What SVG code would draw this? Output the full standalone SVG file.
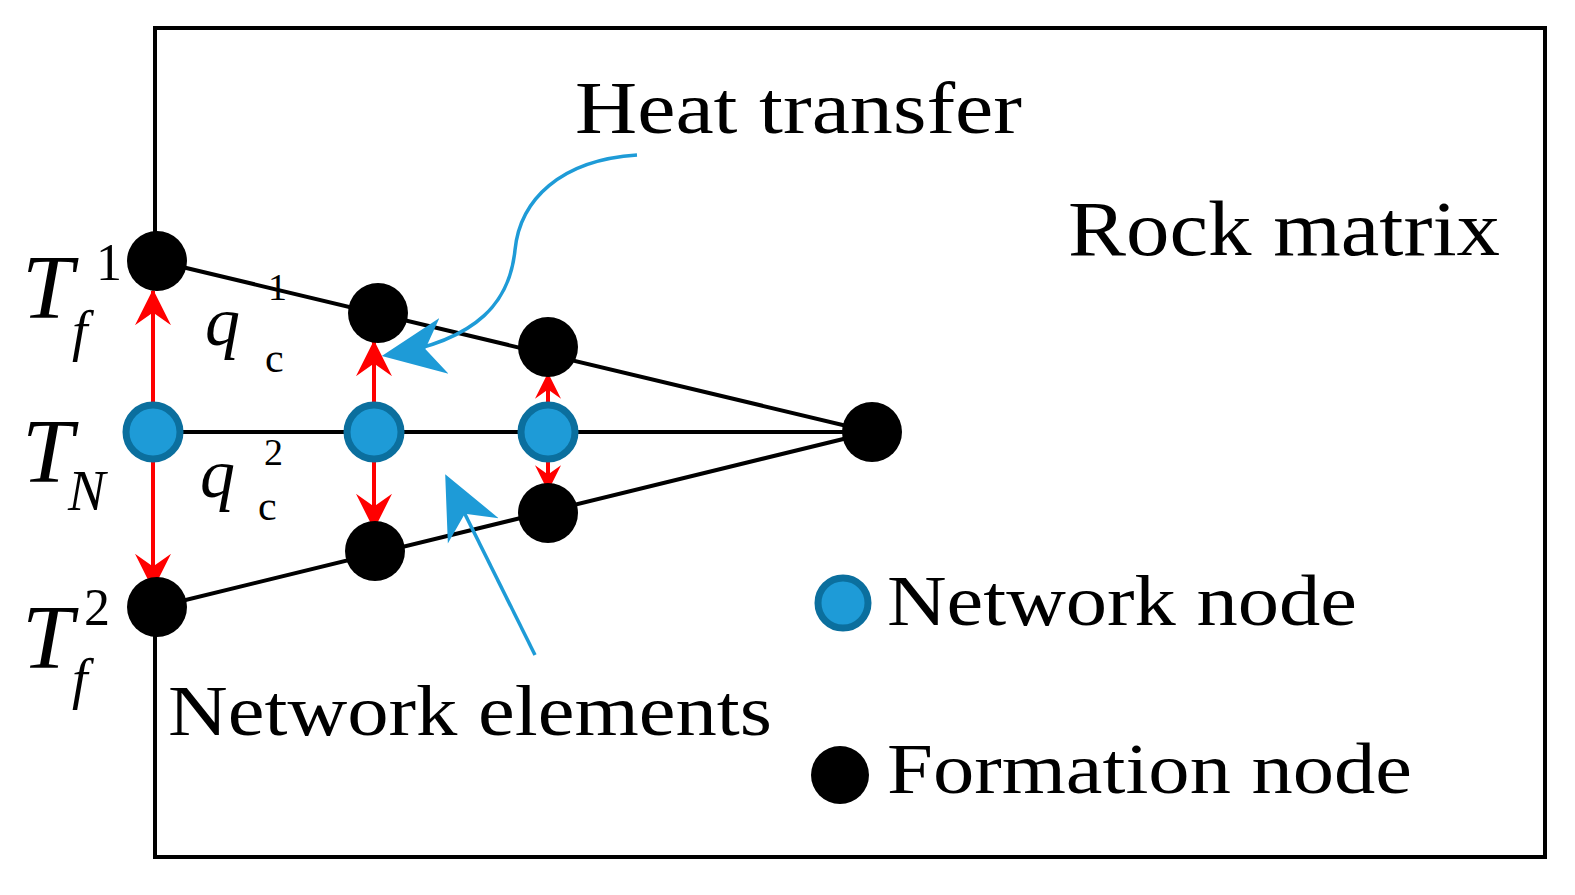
<svg xmlns="http://www.w3.org/2000/svg" width="1575" height="895" viewBox="0 0 1575 895">
<style>
text{font-family:"Liberation Serif",serif;fill:#000}
.it{font-style:italic}
.blk{fill:#000}
.net{fill:#1e9bd7;stroke:#0b6f9e;stroke-width:7}
.ln{stroke:#000;stroke-width:4;fill:none}
.red{stroke:#f00;stroke-width:4;fill:none}
.blu{stroke:#1e9bd7;stroke-width:3.5;fill:none}
</style>
<defs>
<marker id="ra" viewBox="0 0 20 20" refX="19" refY="10" markerWidth="36" markerHeight="36" markerUnits="userSpaceOnUse" orient="auto"><path d="M0,0 L20,10 L0,20 L7,10Z" fill="#f00"/></marker>
<marker id="rs" viewBox="0 0 20 20" refX="19" refY="10" markerWidth="26" markerHeight="26" markerUnits="userSpaceOnUse" orient="auto"><path d="M0,0 L20,10 L0,20 L7,10Z" fill="#f00"/></marker>
<marker id="ba" viewBox="0 0 20 20" refX="18" refY="10" markerWidth="18" markerHeight="18" orient="auto"><path d="M0,1 L20,10 L0,19 L6,10Z" fill="#1e9bd7"/></marker>
</defs>
<rect width="1575" height="895" fill="#fff"/>
<g id="frame"><path class="ln" d="M155,262 V28 H1545 V857 H155 V607"/></g>
<g id="connectors">
<path class="ln" d="M157,261 L872,432 M153,432 H872 M157,607 L872,432"/>
<path class="red" d="M153,405 V291" marker-end="url(#ra)"/>
<path class="red" d="M153,460 V588" marker-end="url(#ra)"/>
<path class="red" d="M374,405 V342" marker-end="url(#ra)"/>
<path class="red" d="M374,460 V528" marker-end="url(#ra)"/>
<path class="red" d="M548,405 V374" marker-end="url(#rs)"/>
<path class="red" d="M548,460 V490" marker-end="url(#rs)"/>
<path class="blu" d="M637,155 C560,160 520,200 515,250 C510,300 480,340 388,355" marker-end="url(#ba)"/>
<path class="blu" d="M535,655 L448,480" marker-end="url(#ba)"/>
</g>
<g id="nodes">
<circle id="f1" class="blk" cx="157" cy="261" r="30"/>
<circle id="f2" class="blk" cx="378" cy="313" r="30"/>
<circle id="f3" class="blk" cx="548" cy="347" r="30"/>
<circle id="apex" class="blk" cx="872" cy="432" r="30"/>
<circle id="f4" class="blk" cx="375" cy="551" r="30"/>
<circle id="f5" class="blk" cx="548" cy="513" r="30"/>
<circle id="f6" class="blk" cx="157" cy="607" r="30"/>
<circle id="n1" class="net" cx="153" cy="432" r="27"/>
<circle id="n2" class="net" cx="374" cy="432" r="27"/>
<circle id="n3" class="net" cx="548" cy="432" r="27"/>
<circle id="leg1" class="net" cx="843" cy="603" r="25"/>
<circle id="leg2" class="blk" cx="840" cy="775" r="29"/>
</g>
<g id="labels">
<text x="575" y="133" font-size="74" textLength="447" lengthAdjust="spacingAndGlyphs">Heat transfer</text>
<text x="1068" y="255" font-size="78" textLength="432" lengthAdjust="spacingAndGlyphs">Rock matrix</text>
<text x="887" y="625" font-size="72" textLength="470" lengthAdjust="spacingAndGlyphs">Network node</text>
<text x="887" y="793" font-size="72" textLength="525" lengthAdjust="spacingAndGlyphs">Formation node</text>
<text x="168" y="735" font-size="72" textLength="604" lengthAdjust="spacingAndGlyphs">Network elements</text>
<text x="22" y="318" font-size="92" class="it">T</text>
<text x="96" y="280" font-size="52">1</text>
<text x="72" y="350" font-size="56" class="it">f</text>
<text x="22" y="482" font-size="92" class="it">T</text>
<text x="68" y="510" font-size="56" class="it">N</text>
<text x="22" y="668" font-size="92" class="it">T</text>
<text x="84" y="625" font-size="52">2</text>
<text x="72" y="698" font-size="56" class="it">f</text>
<text x="205" y="345" font-size="70" class="it">q</text>
<text x="265" y="372" font-size="42">c</text>
<text x="268" y="300" font-size="38">1</text>
<text x="200" y="497" font-size="70" class="it">q</text>
<text x="258" y="520" font-size="42">c</text>
<text x="264" y="465" font-size="38">2</text>
</g>
</svg>
